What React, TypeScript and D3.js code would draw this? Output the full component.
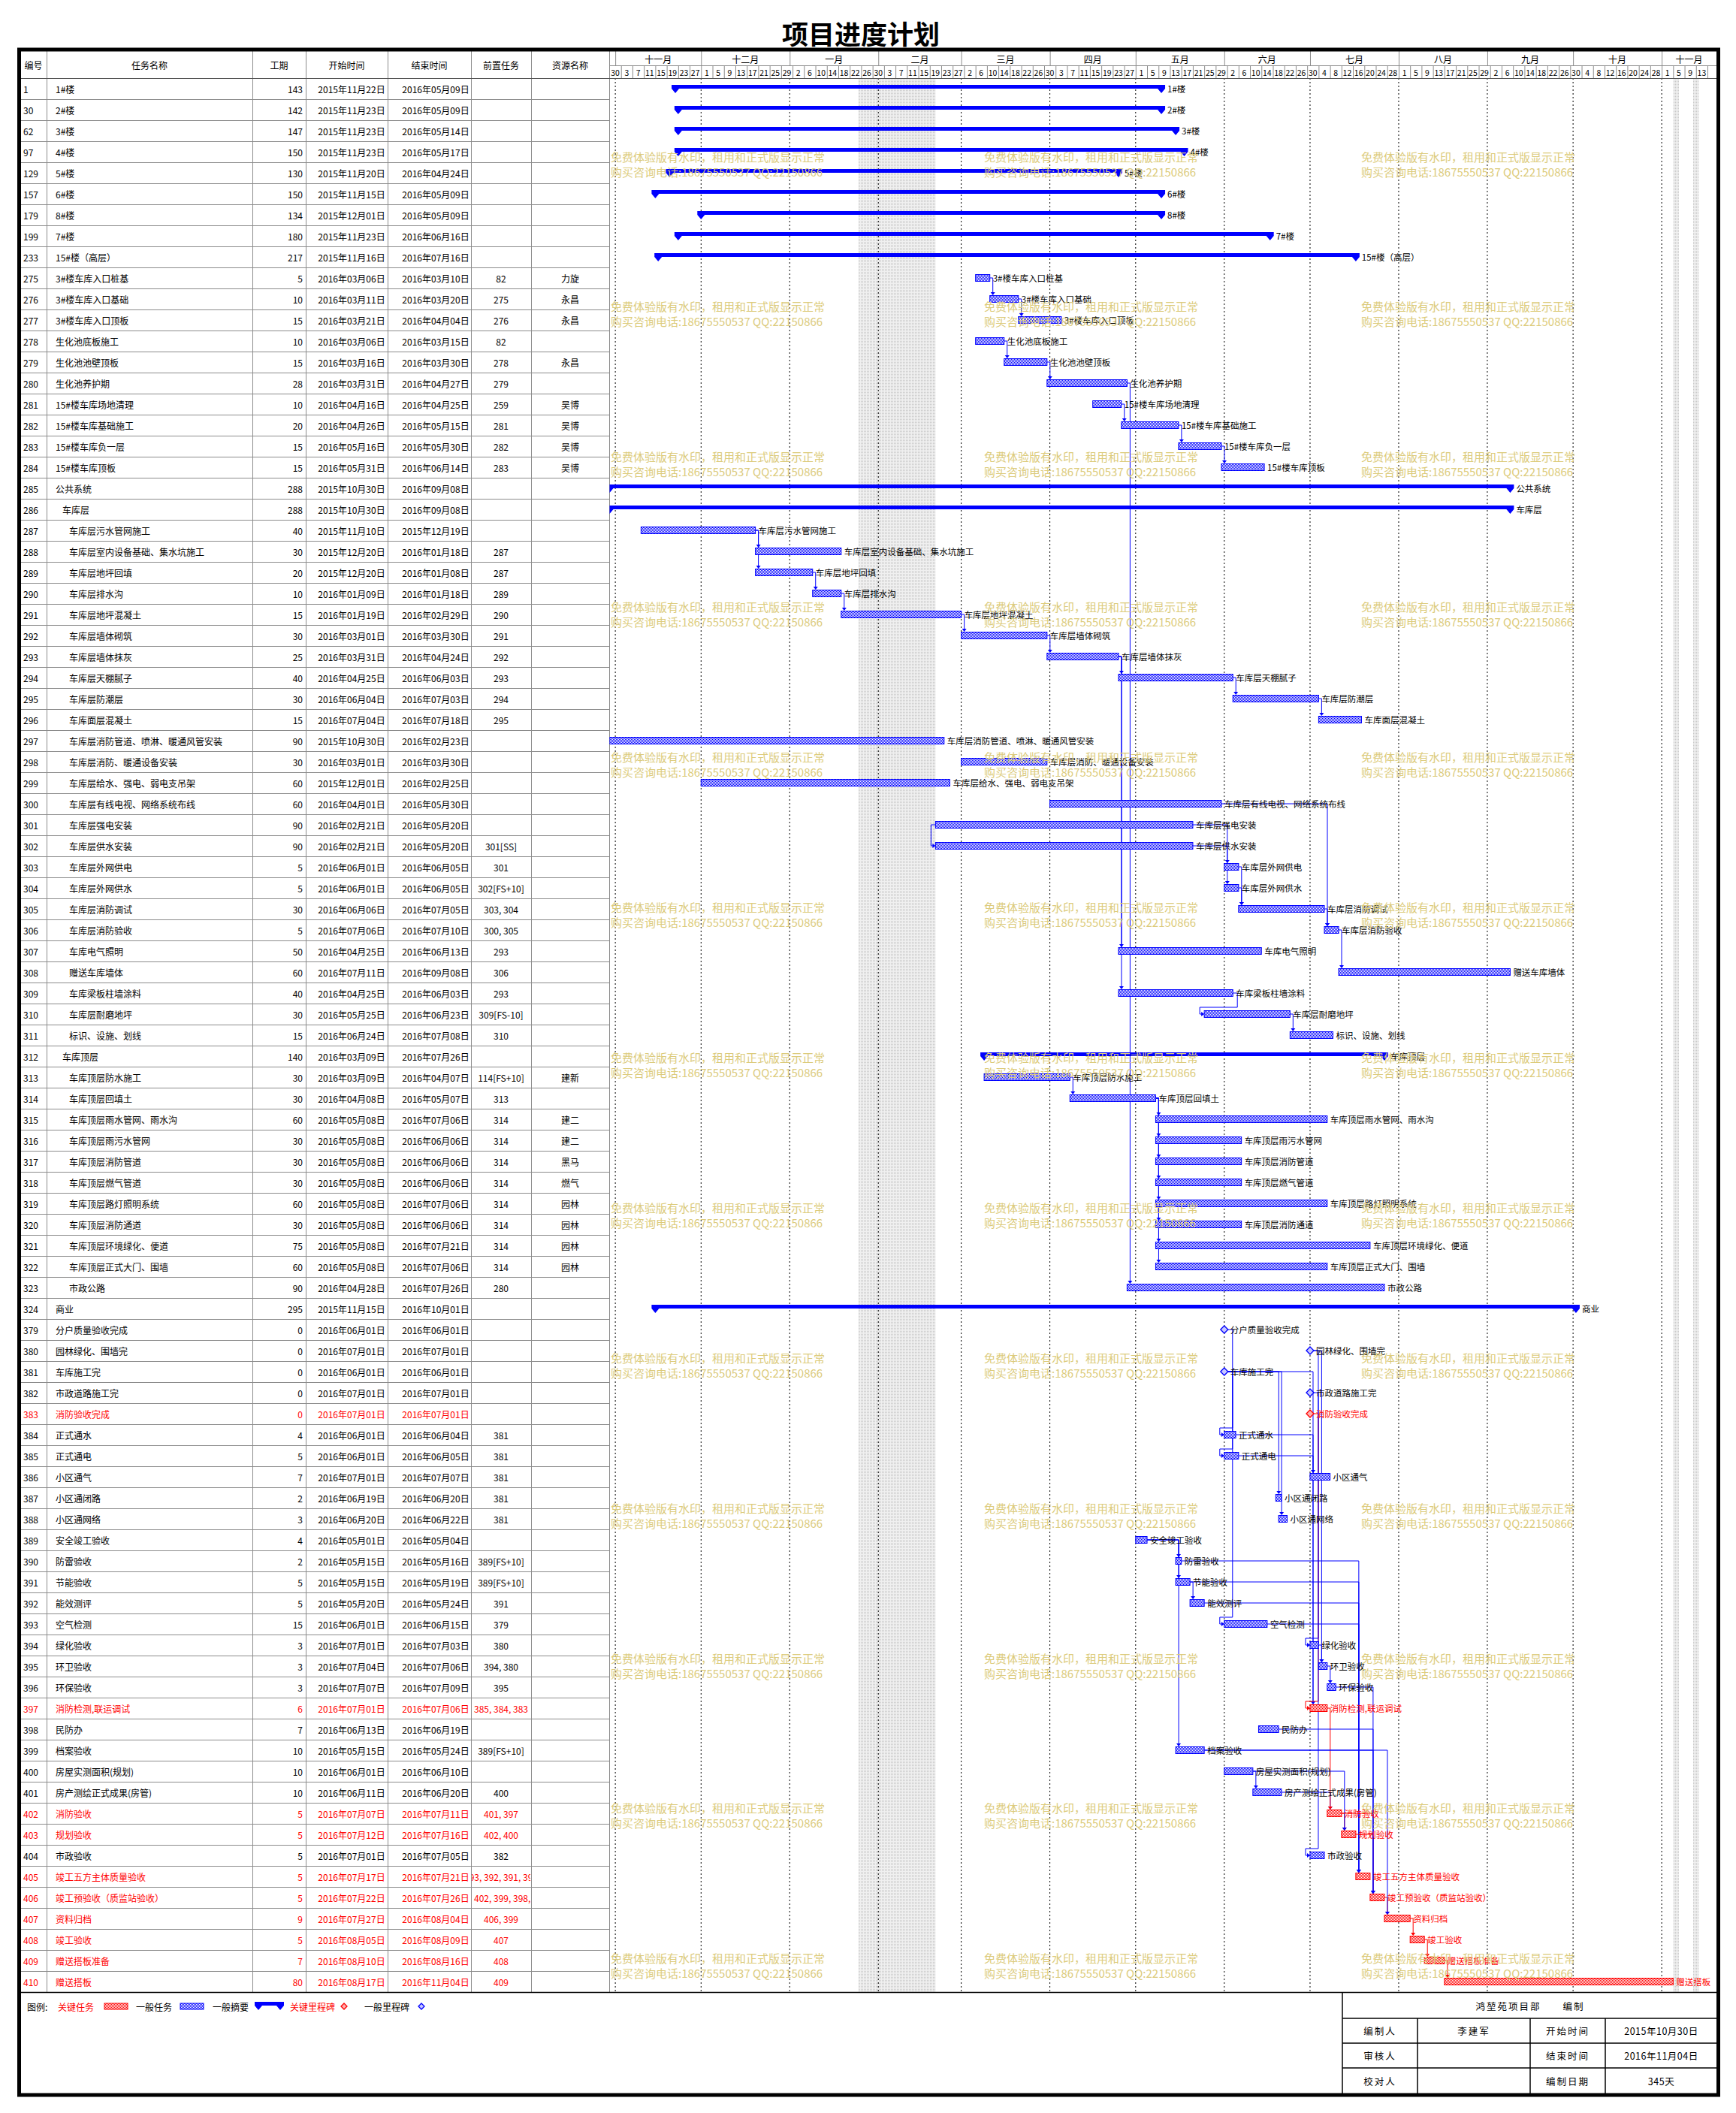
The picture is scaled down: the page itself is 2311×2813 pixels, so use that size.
import React from "react";
import * as d3 from "d3";

// ---------------- DATA ----------------
const ids = [1, 30, 62, 97, 129, 157, 179, 199, 233, 275, 276, 277, 278, 279, 280, 281, 282, 283, 284, 285, 286, 287, 288, 289, 290, 291, 292, 293, 294, 295, 296, 297, 298, 299, 300, 301, 302, 303, 304, 305, 306, 307, 308, 309, 310, 311, 312, 313, 314, 315, 316, 317, 318, 319, 320, 321, 322, 323, 324, 379, 380, 381, 382, 383, 384, 385, 386, 387, 388, 389, 390, 391, 392, 393, 394, 395, 396, 397, 398, 399, 400, 401, 402, 403, 404, 405, 406, 407, 408, 409, 410];

const names = ["1#楼", "2#楼", "3#楼", "4#楼", "5#楼", "6#楼", "8#楼", "7#楼", "15#楼（高层）", "3#楼车库入口桩基", "3#楼车库入口基础", "3#楼车库入口顶板", "生化池底板施工", "生化池池壁顶板", "生化池养护期", "15#楼车库场地清理", "15#楼车库基础施工", "15#楼车库负一层", "15#楼车库顶板", "公共系统", "车库层", "车库层污水管网施工", "车库层室内设备基础、集水坑施工", "车库层地坪回填", "车库层排水沟", "车库层地坪混凝土", "车库层墙体砌筑", "车库层墙体抹灰", "车库层天棚腻子", "车库层防潮层", "车库面层混凝土", "车库层消防管道、喷淋、暖通风管安装", "车库层消防、暖通设备安装", "车库层给水、强电、弱电支吊架", "车库层有线电视、网络系统布线", "车库层强电安装", "车库层供水安装", "车库层外网供电", "车库层外网供水", "车库层消防调试", "车库层消防验收", "车库电气照明", "赠送车库墙体", "车库梁板柱墙涂料", "车库层耐磨地坪", "标识、设施、划线", "车库顶层", "车库顶层防水施工", "车库顶层回填土", "车库顶层雨水管网、雨水沟", "车库顶层雨污水管网", "车库顶层消防管道", "车库顶层燃气管道", "车库顶层路灯照明系统", "车库顶层消防通道", "车库顶层环境绿化、便道", "车库顶层正式大门、围墙", "市政公路", "商业", "分户质量验收完成", "园林绿化、围墙完", "车库施工完", "市政道路施工完", "消防验收完成", "正式通水", "正式通电", "小区通气", "小区通闭路", "小区通网络", "安全竣工验收", "防雷验收", "节能验收", "能效测评", "空气检测", "绿化验收", "环卫验收", "环保验收", "消防检测,联运调试", "民防办", "档案验收", "房屋实测面积(规划)", "房产测绘正式成果(房管)", "消防验收", "规划验收", "市政验收", "竣工五方主体质量验收", "竣工预验收（质监站验收）", "资料归档", "竣工验收", "赠送搭板准备", "赠送搭板"];

const levels = [0, 0, 0, 0, 0, 0, 0, 0, 0, 0, 0, 0, 0, 0, 0, 0, 0, 0, 0, 0, 1, 2, 2, 2, 2, 2, 2, 2, 2, 2, 2, 2, 2, 2, 2, 2, 2, 2, 2, 2, 2, 2, 2, 2, 2, 2, 1, 2, 2, 2, 2, 2, 2, 2, 2, 2, 2, 2, 0, 0, 0, 0, 0, 0, 0, 0, 0, 0, 0, 0, 0, 0, 0, 0, 0, 0, 0, 0, 0, 0, 0, 0, 0, 0, 0, 0, 0, 0, 0, 0, 0];

const durations = [143, 142, 147, 150, 130, 150, 134, 180, 217, 5, 10, 15, 10, 15, 28, 10, 20, 15, 15, 288, 288, 40, 30, 20, 10, 15, 30, 25, 40, 30, 15, 90, 30, 60, 60, 90, 90, 5, 5, 30, 5, 50, 60, 40, 30, 15, 140, 30, 30, 60, 30, 30, 30, 60, 30, 75, 60, 90, 295, 0, 0, 0, 0, 0, 4, 5, 7, 2, 3, 4, 2, 5, 5, 15, 3, 3, 3, 6, 7, 10, 10, 10, 5, 5, 5, 5, 5, 9, 5, 7, 80];

const starts = ["2015-11-22", "2015-11-23", "2015-11-23", "2015-11-23", "2015-11-20", "2015-11-15", "2015-12-01", "2015-11-23", "2015-11-16", "2016-03-06", "2016-03-11", "2016-03-21", "2016-03-06", "2016-03-16", "2016-03-31", "2016-04-16", "2016-04-26", "2016-05-16", "2016-05-31", "2015-10-30", "2015-10-30", "2015-11-10", "2015-12-20", "2015-12-20", "2016-01-09", "2016-01-19", "2016-03-01", "2016-03-31", "2016-04-25", "2016-06-04", "2016-07-04", "2015-10-30", "2016-03-01", "2015-12-01", "2016-04-01", "2016-02-21", "2016-02-21", "2016-06-01", "2016-06-01", "2016-06-06", "2016-07-06", "2016-04-25", "2016-07-11", "2016-04-25", "2016-05-25", "2016-06-24", "2016-03-09", "2016-03-09", "2016-04-08", "2016-05-08", "2016-05-08", "2016-05-08", "2016-05-08", "2016-05-08", "2016-05-08", "2016-05-08", "2016-05-08", "2016-04-28", "2015-11-15", "2016-06-01", "2016-07-01", "2016-06-01", "2016-07-01", "2016-07-01", "2016-06-01", "2016-06-01", "2016-07-01", "2016-06-19", "2016-06-20", "2016-05-01", "2016-05-15", "2016-05-15", "2016-05-20", "2016-06-01", "2016-07-01", "2016-07-04", "2016-07-07", "2016-07-01", "2016-06-13", "2016-05-15", "2016-06-01", "2016-06-11", "2016-07-07", "2016-07-12", "2016-07-01", "2016-07-17", "2016-07-22", "2016-07-27", "2016-08-05", "2016-08-10", "2016-08-17"];

const ends = ["2016-05-09", "2016-05-09", "2016-05-14", "2016-05-17", "2016-04-24", "2016-05-09", "2016-05-09", "2016-06-16", "2016-07-16", "2016-03-10", "2016-03-20", "2016-04-04", "2016-03-15", "2016-03-30", "2016-04-27", "2016-04-25", "2016-05-15", "2016-05-30", "2016-06-14", "2016-09-08", "2016-09-08", "2015-12-19", "2016-01-18", "2016-01-08", "2016-01-18", "2016-02-29", "2016-03-30", "2016-04-24", "2016-06-03", "2016-07-03", "2016-07-18", "2016-02-23", "2016-03-30", "2016-02-25", "2016-05-30", "2016-05-20", "2016-05-20", "2016-06-05", "2016-06-05", "2016-07-05", "2016-07-10", "2016-06-13", "2016-09-08", "2016-06-03", "2016-06-23", "2016-07-08", "2016-07-26", "2016-04-07", "2016-05-07", "2016-07-06", "2016-06-06", "2016-06-06", "2016-06-06", "2016-07-06", "2016-06-06", "2016-07-21", "2016-07-06", "2016-07-26", "2016-10-01", "2016-06-01", "2016-07-01", "2016-06-01", "2016-07-01", "2016-07-01", "2016-06-04", "2016-06-05", "2016-07-07", "2016-06-20", "2016-06-22", "2016-05-04", "2016-05-16", "2016-05-19", "2016-05-24", "2016-06-15", "2016-07-03", "2016-07-06", "2016-07-09", "2016-07-06", "2016-06-19", "2016-05-24", "2016-06-10", "2016-06-20", "2016-07-11", "2016-07-16", "2016-07-05", "2016-07-21", "2016-07-26", "2016-08-04", "2016-08-09", "2016-08-16", "2016-11-04"];

const preds = ["", "", "", "", "", "", "", "", "", "82", "275", "276", "82", "278", "279", "259", "281", "282", "283", "", "", "", "287", "287", "289", "290", "291", "292", "293", "294", "295", "", "", "", "", "", "301[SS]", "301", "302[FS+10]", "303, 304", "300, 305", "293", "306", "293", "309[FS-10]", "310", "", "114[FS+10]", "313", "314", "314", "314", "314", "314", "314", "314", "314", "280", "", "", "", "", "", "", "381", "381", "381", "381", "381", "", "389[FS+10]", "389[FS+10]", "391", "379", "380", "394, 380", "395", "385, 384, 383", "", "389[FS+10]", "", "400", "401, 397", "402, 400", "382", "393, 392, 391, 390", "403, 402, 399, 398, 396", "406, 399", "407", "408", "409"];

const resources = ["", "", "", "", "", "", "", "", "", "力旋", "永昌", "永昌", "", "永昌", "", "吴博", "吴博", "吴博", "吴博", "", "", "", "", "", "", "", "", "", "", "", "", "", "", "", "", "", "", "", "", "", "", "", "", "", "", "", "", "建新", "", "建二", "建二", "黑马", "燃气", "园林", "园林", "园林", "园林", "", "", "", "", "", "", "", "", "", "", "", "", "", "", "", "", "", "", "", "", "", "", "", "", "", "", "", "", "", "", "", "", "", ""];

// S = summary, T = task, C = critical task, M = milestone, CM = critical milestone
const kinds = ["S", "S", "S", "S", "S", "S", "S", "S", "S", "T", "T", "T", "T", "T", "T", "T", "T", "T", "T", "S", "S", "T", "T", "T", "T", "T", "T", "T", "T", "T", "T", "T", "T", "T", "T", "T", "T", "T", "T", "T", "T", "T", "T", "T", "T", "T", "S", "T", "T", "T", "T", "T", "T", "T", "T", "T", "T", "T", "S", "M", "M", "M", "M", "CM", "T", "T", "T", "T", "T", "T", "T", "T", "T", "T", "T", "T", "T", "C", "T", "T", "T", "T", "C", "C", "T", "C", "C", "C", "C", "C", "C"];

const headerCols = ["编号", "任务名称", "工期", "开始时间", "结束时间", "前置任务", "资源名称"];
const monthNames = ["十月", "十一月", "十二月", "一月", "二月", "三月", "四月", "五月", "六月", "七月", "八月", "九月", "十月", "十一月"];
const holidays = [["2016-01-25", "2016-02-21"], ["2016-11-05", "2016-11-07"], ["2016-11-12", "2016-11-14"]];
const watermarkLines = ["免费体验版有水印，租用和正式版显示正常", "购买咨询电话:18675550537 QQ:22150866"];
const legendItems = [
  { label: "关键任务", color: "#ff0000", kind: "C" },
  { label: "一般任务", color: "#000000", kind: "T" },
  { label: "一般摘要", color: "#000000", kind: "S" },
  { label: "关键里程碑", color: "#ff0000", kind: "CM" },
  { label: "一般里程碑", color: "#000000", kind: "M" },
];
const footerRows = [
  ["编制人", "李建军", "开始时间", "2015年10月30日"],
  ["审核人", "", "结束时间", "2016年11月04日"],
  ["校对人", "", "编制日期", "345天"],
];
const footerTitle = "鸿堃苑项目部      编制";
const chartTitle = "项目进度计划";

// ---------------- LAYOUT ----------------
const W = 2311;
const H = 2813;
const FONT = "'Noto Sans CJK SC', 'Noto Sans', sans-serif";
const HEAD_TOP = 68;
const HEAD_MID = 87;
const ROW_TOP = 104;
const ROW_H = 28;
const COLS = [27, 62, 336, 407, 516, 627, 707, 811];
const GX0 = 811.5;
const GX1 = 2285;
const PX_DAY = 3.806;
const BLUE = "#0000ff";
const RED = "#ff0000";
const GRID = "#8c8c8c";

const parse = d3.utcParse("%Y-%m-%d");
const fmt = d3.utcFormat("%Y年%m月%d日");
const day0 = parse("2015-10-30") as Date;
const dayEnd = d3.utcDay.offset(day0, 400);
const x = d3.scaleUtc().domain([day0, dayEnd]).range([GX0, GX0 + 400 * PX_DAY]);

type Row = {
  id: number; i: number; name: string; level: number; dur: number;
  start: Date; end: Date; pred: string; res: string; kind: string;
  cy: number;
};

function rowsData(): Row[] {
  return ids.map((id, i) => ({
    id, i, name: names[i], level: levels[i], dur: durations[i],
    start: parse(starts[i]) as Date, end: parse(ends[i]) as Date,
    pred: preds[i], res: resources[i], kind: kinds[i],
    cy: ROW_TOP + i * ROW_H + ROW_H / 2,
  }));
}

const isCrit = (k: string) => k === "C" || k === "CM";
const isMile = (k: string) => k === "M" || k === "CM";

function barStartX(r: Row) { return x(r.start); }
function barEndX(r: Row) { return isMile(r.kind) ? x(r.start) : x(d3.utcDay.offset(r.end, 1)); }

function parsePreds(s: string) {
  if (!s) return [] as { id: number; type: string }[];
  return s.split(",").map((t) => t.trim()).filter(Boolean).map((t) => {
    const m = t.match(/^(\d+)(?:\[(FS|SS)([+-]\d+)?\])?$/);
    return { id: m ? +m[1] : NaN, type: m && m[2] ? m[2] : "FS" };
  });
}

function linkPath(p: Row, s: Row, type: string) {
  const sMile = isMile(s.kind);
  const pMile = isMile(p.kind);
  const ys = s.cy;
  const sx = barStartX(s) - (sMile ? 5 : 0);
  const sTop = s.cy - (sMile ? 6 : 5);
  if (type === "SS") {
    const px = barStartX(p);
    const lx = Math.min(px, sx) - 6;
    return { d: `M${px},${p.cy}H${lx}V${ys}H${sx - 1}`, ax: sx, ay: ys, dir: "right" };
  }
  const ex = barEndX(p) + (pMile ? 5 : 0);
  if (sx + 2 >= ex) {
    const hx = Math.max(sx, ex) + 4;
    return { d: `M${ex},${p.cy}H${hx}V${sTop - 1}`, ax: hx, ay: sTop, dir: "down" };
  }
  const midY = s.cy - 9;
  return { d: `M${ex},${p.cy}H${ex + 6}V${midY}H${sx - 6}V${ys}H${sx - 1}`, ax: sx, ay: ys, dir: "right" };
}

function Arrow({ x0, y0, dir, color }: { x0: number; y0: number; dir: string; color: string }) {
  const d = dir === "down"
    ? `M${x0 - 3},${y0 - 4}L${x0 + 3},${y0 - 4}L${x0},${y0}Z`
    : `M${x0 - 4},${y0 - 3}L${x0 - 4},${y0 + 3}L${x0},${y0}Z`;
  return <path d={d} fill={color} />;
}

function SummaryShape({ xs, xe, cy }: { xs: number; xe: number; cy: number }) {
  const d = `M${xs - 5},${cy - 5}H${xe + 5}V${cy}L${xe},${cy + 6}L${xe - 5},${cy}H${xs + 5}L${xs},${cy + 6}L${xs - 5},${cy}Z`;
  return <path d={d} fill={BLUE} />;
}

function Diamond({ cx, cy, crit, r = 5 }: { cx: number; cy: number; crit: boolean; r?: number }) {
  const c = crit ? RED : BLUE;
  return <path d={`M${cx},${cy - r}L${cx + r},${cy}L${cx},${cy + r}L${cx - r},${cy}Z`} fill={crit ? "#ffb0b0" : "#c8c8ff"} stroke={c} strokeWidth={1.3} />;
}

export default function App() {
  const rows = rowsData();
  const byId = new Map(rows.map((r) => [r.id, r]));
  const tableBottom = ROW_TOP + rows.length * ROW_H;

  const monthStarts = d3.utcMonth.range(d3.utcMonth.floor(day0), d3.utcMonth.offset(d3.utcMonth.floor(day0), 14));
  const months = monthStarts.map((m, k) => {
    const a = Math.max(GX0, x(m));
    const b = Math.min(GX1, x(d3.utcMonth.offset(m, 1)));
    return { a, b, label: monthNames[k], start: m };
  }).filter((m) => m.b > m.a);

  const dayCells: { a: number; b: number; label: number }[] = [];
  for (let k = 0; ; k++) {
    const dt = d3.utcDay.offset(day0, k * 4);
    const a = x(dt);
    if (a >= GX1) break;
    dayCells.push({ a, b: Math.min(GX1, x(d3.utcDay.offset(dt, 4))), label: dt.getUTCDate() });
  }

  const links: { d: string; ax: number; ay: number; dir: string; crit: boolean }[] = [];
  rows.forEach((s) => {
    parsePreds(s.pred).forEach((pp) => {
      const p = byId.get(pp.id);
      if (!p) return;
      const l = linkPath(p, s, pp.type);
      links.push({ ...l, crit: isCrit(p.kind) && isCrit(s.kind) });
    });
  });

  const nameX = (lvl: number) => 74 + lvl * 9;
  const tcol = (r: Row) => (isCrit(r.kind) ? RED : "#000");

  const wmRows = d3.range(13).map((k) => 208 + k * 199.9);
  const wmCols = [813, 1310, 1812];

  const FX = [1787, 1887, 2037, 2137, 2286];
  const FY = [2653, 2687, 2720, 2753, 2787];
  const LY = 2671;

  return (
    <svg width={W} height={H} viewBox={`0 0 ${W} ${H}`} style={{ position: "absolute", left: 0, top: 0, background: "#fff" }} fontFamily={FONT}>
      <defs>
        <pattern id="hatchBlue" width="2" height="2" patternUnits="userSpaceOnUse">
          <rect width="2" height="2" fill="#fff" />
          <rect width="1" height="1" fill={BLUE} />
          <rect x="1" y="1" width="1" height="1" fill={BLUE} />
        </pattern>
        <pattern id="hatchRed" width="2" height="2" patternUnits="userSpaceOnUse">
          <rect width="2" height="2" fill="#fff" />
          <rect width="1" height="1" fill={RED} />
          <rect x="1" y="1" width="1" height="1" fill={RED} />
        </pattern>
        <pattern id="stipple" width="2" height="2" patternUnits="userSpaceOnUse">
          <rect width="2" height="2" fill="#f0f0f0" />
          <rect width="1" height="1" fill="#c8c8c8" />
        </pattern>
        <clipPath id="predClip"><rect x={COLS[5] + 1} y={ROW_TOP} width={COLS[6] - COLS[5] - 2} height={tableBottom - ROW_TOP} /></clipPath>
        <clipPath id="ganttClip"><rect x={GX0} y={HEAD_TOP} width={GX1 - GX0} height={tableBottom - HEAD_TOP} /></clipPath>
      </defs>
      <rect width={W} height={H} fill="#fff" />

      <text x={1146} y={43} fontSize={35} fontWeight={700} textAnchor="middle" dominantBaseline="central" fill="#000">{chartTitle}</text>

      <g clipPath="url(#ganttClip)">
        {holidays.map(([a, b], k) => (
          <rect key={k} x={x(parse(a) as Date)} y={ROW_TOP} width={x(parse(b) as Date) - x(parse(a) as Date)} height={tableBottom - ROW_TOP} fill="url(#stipple)" />
        ))}
        {months.map((m, k) => (
          <line key={k} x1={x(m.start)} x2={x(m.start)} y1={ROW_TOP} y2={tableBottom} stroke="#000" strokeWidth={1} strokeDasharray="2,3" />
        ))}
      </g>

      <g stroke={GRID} strokeWidth={1}>
        {rows.map((r) => (
          <line key={r.id} x1={COLS[0]} x2={COLS[7]} y1={ROW_TOP + (r.i + 1) * ROW_H + 0.5} y2={ROW_TOP + (r.i + 1) * ROW_H + 0.5} />
        ))}
        {COLS.slice(1).map((c, k) => (
          <line key={k} x1={c + 0.5} x2={c + 0.5} y1={HEAD_TOP} y2={tableBottom} />
        ))}
        <line x1={COLS[0]} x2={GX1} y1={ROW_TOP + 0.5} y2={ROW_TOP + 0.5} stroke="#555" />
        <line x1={GX0} x2={GX1} y1={HEAD_MID + 0.5} y2={HEAD_MID + 0.5} />
        {months.map((m, k) => (
          <line key={"m" + k} x1={m.b + 0.5} x2={m.b + 0.5} y1={HEAD_TOP} y2={HEAD_MID} />
        ))}
        {dayCells.map((c, k) => (
          <line key={"d" + k} x1={c.b + 0.5} x2={c.b + 0.5} y1={HEAD_MID} y2={ROW_TOP} />
        ))}
      </g>

      {headerCols.map((h, k) => (
        <text key={h} x={(COLS[k] + COLS[k + 1]) / 2} y={86} fontSize={12} textAnchor="middle" dominantBaseline="central" fill="#000">{h}</text>
      ))}
      {months.map((m, k) => (
        m.b - m.a > 30 ? <text key={k} x={(m.a + m.b) / 2} y={78} fontSize={12} textAnchor="middle" dominantBaseline="central">{m.label}</text> : null
      ))}
      {dayCells.map((c, k) => (
        c.b - c.a > 14 ? <text key={k} x={(c.a + c.b) / 2} y={96} fontSize={10.5} textAnchor="middle" dominantBaseline="central">{c.label}</text> : null
      ))}

      {rows.map((r) => {
        const col = tcol(r);
        return (
          <g key={r.id} fill={col} fontSize={12}>
            <text x={31} y={r.cy} dominantBaseline="central">{r.id}</text>
            <text x={nameX(r.level)} y={r.cy} dominantBaseline="central">{r.name}</text>
            <text x={COLS[3] - 4} y={r.cy} textAnchor="end" dominantBaseline="central">{r.dur}</text>
            <text x={468} y={r.cy} textAnchor="middle" dominantBaseline="central">{fmt(r.start)}</text>
            <text x={580} y={r.cy} textAnchor="middle" dominantBaseline="central">{fmt(r.end)}</text>
            <g clipPath="url(#predClip)">
              <text x={(COLS[5] + COLS[6]) / 2} y={r.cy} textAnchor="middle" dominantBaseline="central">{r.pred}</text>
            </g>
            <text x={(COLS[6] + COLS[7]) / 2} y={r.cy} textAnchor="middle" dominantBaseline="central">{r.res}</text>
          </g>
        );
      })}

      <g clipPath="url(#ganttClip)">
        {links.map((l, k) => (
          <g key={k}>
            <path d={l.d} fill="none" stroke={l.crit ? RED : BLUE} strokeWidth={1} />
            <Arrow x0={l.ax} y0={l.ay} dir={l.dir} color={l.crit ? RED : BLUE} />
          </g>
        ))}
        {rows.map((r) => {
          const xs = barStartX(r);
          const xe = barEndX(r);
          if (r.kind === "S") {
            return (
              <g key={r.id}>
                <SummaryShape xs={xs} xe={xe} cy={r.cy} />
                <text x={xe + 8} y={r.cy} fontSize={11.5} dominantBaseline="central" fill="#000">{r.name}</text>
              </g>
            );
          }
          if (isMile(r.kind)) {
            return (
              <g key={r.id}>
                <Diamond cx={xs} cy={r.cy} crit={isCrit(r.kind)} />
                <text x={xs + 8} y={r.cy} fontSize={11.5} dominantBaseline="central" fill={tcol(r)}>{r.name}</text>
              </g>
            );
          }
          const crit = isCrit(r.kind);
          return (
            <g key={r.id}>
              <rect x={xs} y={r.cy - 4.5} width={Math.max(1, xe - xs)} height={9} fill={crit ? "url(#hatchRed)" : "url(#hatchBlue)"} stroke={crit ? RED : BLUE} strokeWidth={1} />
              <text x={xe + 4} y={r.cy} fontSize={11.5} dominantBaseline="central" fill={tcol(r)}>{r.name}</text>
            </g>
          );
        })}
        {wmRows.map((y, a) => wmCols.map((wx, b) => (
          <g key={a + "-" + b} fill="#dccb7c" fontSize={15}>
            <text x={wx} y={y} dominantBaseline="central">{watermarkLines[0]}</text>
            <text x={wx} y={y + 20} dominantBaseline="central">{watermarkLines[1]}</text>
          </g>
        )))}
      </g>

      <line x1={24} x2={2288} y1={tableBottom + 0.5} y2={tableBottom + 0.5} stroke="#000" strokeWidth={1.5} />

      {/* legend */}
      <g fontSize={12}>
        <text x={36} y={LY} dominantBaseline="central" fill="#000">图例:</text>
        <text x={77} y={LY} dominantBaseline="central" fill={legendItems[0].color}>{legendItems[0].label}</text>
        <rect x={139} y={LY - 4} width={31} height={8} fill="url(#hatchRed)" stroke={RED} />
        <text x={181} y={LY} dominantBaseline="central" fill={legendItems[1].color}>{legendItems[1].label}</text>
        <rect x={240} y={LY - 4} width={31} height={8} fill="url(#hatchBlue)" stroke={BLUE} />
        <text x={283} y={LY} dominantBaseline="central" fill={legendItems[2].color}>{legendItems[2].label}</text>
        <SummaryShape xs={344} xe={373} cy={LY - 1} />
        <text x={386} y={LY} dominantBaseline="central" fill={legendItems[3].color}>{legendItems[3].label}</text>
        <Diamond cx={458} cy={LY} crit={true} r={4} />
        <text x={485} y={LY} dominantBaseline="central" fill={legendItems[4].color}>{legendItems[4].label}</text>
        <Diamond cx={561} cy={LY} crit={false} r={4} />
      </g>

      {/* footer table */}
      <g stroke="#000" strokeWidth={1.5}>
        <line x1={FX[0]} x2={FX[0]} y1={FY[0]} y2={FY[4]} />
        {FY.slice(1, 4).map((y, k) => <line key={k} x1={FX[0]} x2={FX[4]} y1={y} y2={y} />)}
        {FX.slice(1, 4).map((fx, k) => <line key={"v" + k} x1={fx} x2={fx} y1={FY[1]} y2={FY[4]} />)}
      </g>
      <text x={2037} y={(FY[0] + FY[1]) / 2} fontSize={12.5} letterSpacing={2} textAnchor="middle" dominantBaseline="central" style={{ whiteSpace: "pre" }}>{footerTitle}</text>
      {footerRows.map((fr, a) => fr.map((t, b) => (
        <text key={a + "-" + b} x={(FX[b] + FX[b + 1]) / 2} y={(FY[a + 1] + FY[a + 2]) / 2} fontSize={12.5} letterSpacing={b === 3 ? 0.5 : 2} textAnchor="middle" dominantBaseline="central">{t}</text>
      )))}

      <rect x={25.5} y={66} width={2262} height={2723} fill="none" stroke="#000" strokeWidth={5} />
    </svg>
  );
}
